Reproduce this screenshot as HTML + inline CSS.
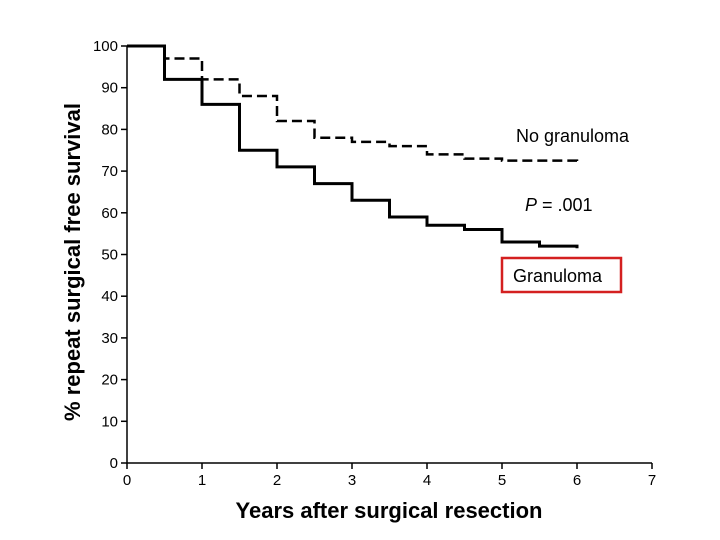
<!DOCTYPE html>
<html><head><meta charset="utf-8"><style>
body{margin:0;background:#fff;}
svg{display:block;font-family:"Liberation Sans",sans-serif;}
</style></head><body>
<svg id="chart" width="720" height="540"></svg>
<script>
const xTicks=[0,1,2,3,4,5,6,7];
const yTicks=[0,10,20,30,40,50,60,70,80,90,100];
const stepTimes=[0,0.5,1,1.5,2,2.5,3,3.5,4,4.5,5,5.5,6];
const granuloma=[100,92,86,75,71,67,63,59,57,56,53,52,51.5];
const noGranuloma=[100,97,92,88,82,78,77,76,74,73,72.5,72.5,72];
const X0=127,X1=652,Y0=463,Y1=46;
const sx=v=>X0+(v/7)*(X1-X0);
const sy=v=>Y0-(v/100)*(Y0-Y1);
const svg=document.getElementById('chart');
const NS='http://www.w3.org/2000/svg';
function mk(t,a){const e=document.createElementNS(NS,t);for(const k in a)e.setAttribute(k,a[k]);svg.appendChild(e);return e;}
let ax=mk('path',{d:`M${X0},${Y1}V${Y0}H${X1}`,stroke:'#000','stroke-width':1.5,fill:'none'});


xTicks.forEach(v=>{
 let t=mk('line',{x1:sx(v),x2:sx(v),y1:Y0,y2:Y0+6,stroke:'#000','stroke-width':1.5});
 
 
 let l=mk('text',{x:sx(v),y:Y0+22,'text-anchor':'middle','font-size':15});
 l.textContent=v;
 
 
});
yTicks.forEach(v=>{
 let t=mk('line',{x1:X0-6,x2:X0,y1:sy(v),y2:sy(v),stroke:'#000','stroke-width':1.5});
 
 
 let l=mk('text',{x:X0-9,y:sy(v)+5,'text-anchor':'end','font-size':15});
 l.textContent=v;
 
 
});
function stepPath(vals){
 let d=`M${sx(stepTimes[0])},${sy(vals[0])}`;
 for(let i=1;i<stepTimes.length;i++){d+=`H${sx(stepTimes[i])}V${sy(vals[i])}`;}
 return d;
}
let s1=mk('path',{d:stepPath(granuloma),stroke:'#000','stroke-width':3,fill:'none'});


let s2=mk('path',{d:stepPath(noGranuloma),stroke:'#000','stroke-width':2.5,fill:'none','stroke-dasharray':'10,5'});


</script>
<svg style="position:absolute;left:0;top:0" width="720" height="540">
<text x="516" y="142" font-size="18" font-family="Liberation Sans,sans-serif">No granuloma</text>
<text x="525" y="211" font-size="18" font-family="Liberation Sans,sans-serif"><tspan font-style="italic">P</tspan> = .001</text>
<rect x="502" y="258" width="119" height="34" fill="none" stroke="#d42020" stroke-width="2.5"/>
<text x="513" y="282" font-size="18" font-family="Liberation Sans,sans-serif">Granuloma</text>
<text x="389" y="518" text-anchor="middle" font-size="22" font-weight="bold" font-family="Liberation Sans,sans-serif">Years after surgical resection</text>
<text transform="translate(80,262) rotate(-90)" text-anchor="middle" font-size="22" font-weight="bold" font-family="Liberation Sans,sans-serif">% repeat surgical free survival</text>
</svg>
</body></html>
